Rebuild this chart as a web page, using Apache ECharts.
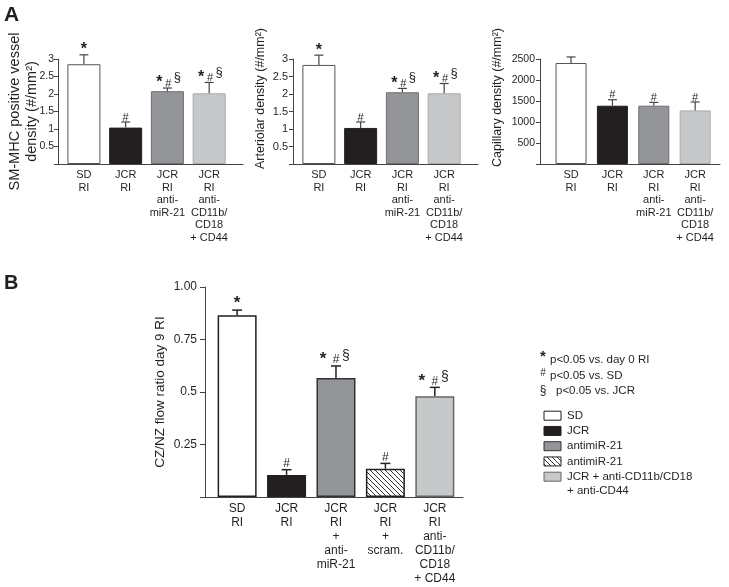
<!DOCTYPE html>
<html>
<head>
<meta charset="utf-8">
<script src="https://cdn.jsdelivr.net/npm/echarts@6/dist/echarts.min.js"></script>
<style>
html, body {margin: 0; padding: 0; background: #fff;}
#chart {width: 729px; height: 587px;}
</style>
</head>
<body>
<div id="chart"></div>
<script>
const FONT = '"Liberation Sans", Arial, sans-serif';
const INK = '#231f20';

// panel A
const catsA = ['SD\nRI', 'JCR\nRI', 'JCR\nRI\nanti-\nmiR-21', 'JCR\nRI\nanti-\nCD11b/\nCD18\n+ CD44'];
const smMean = [2.85, 1.04, 2.08, 2.02];
const smUpper = [3.12, 1.2, 2.17, 2.33];
const smSig = ['*', '#', '*#§', '*#§'];
const artMean = [2.83, 1.03, 2.05, 2.02];
const artUpper = [3.11, 1.2, 2.16, 2.3];
const artSig = ['*', '#', '*#§', '*#§'];
const capMean = [2405, 1388, 1388, 1276];
const capUpper = [2548, 1530, 1467, 1476];
const capSig = ['', '#', '#', '#'];

// panel B
const catsB = ['SD\nRI', 'JCR\nRI', 'JCR\nRI\n+\nanti-\nmiR-21', 'JCR\nRI\n+\nscram.', 'JCR\nRI\nanti-\nCD11b/\nCD18\n+ CD44'];
const flowMean = [0.865, 0.105, 0.567, 0.135, 0.48];
const flowUpper = [0.89, 0.13, 0.624, 0.16, 0.522];
const flowSig = ['*', '#', '*#§', '#', '*#§'];
const flowTicks = ['', '0.25', '0.5', '0.75', '1.00'];

const sigNotes = [['*', 'p<0.05 vs. day 0 RI'], ['#', 'p<0.05 vs. SD'], ['§', 'p<0.05 vs. JCR']];
const legendNames = ['SD', 'JCR', 'antimiR-21', 'antimiR-21', 'JCR + anti-CD11b/CD18\n+ anti-CD44'];

// hatch pattern for the scrambled group
const hatch = (() => {
  const c = document.createElement('canvas');
  c.width = c.height = 5;
  const g = c.getContext('2d');
  g.fillStyle = '#fff';
  g.fillRect(0, 0, 5, 5);
  g.strokeStyle = '#333';
  g.lineWidth = 1;
  g.beginPath();
  g.moveTo(-1, -1); g.lineTo(6, 6);
  g.moveTo(-1, 4); g.lineTo(1, 6);
  g.moveTo(4, -1); g.lineTo(6, 1);
  g.stroke();
  return c;
})();

const fillsA = [
  {color: '#fff', borderColor: '#555', borderWidth: 1},
  {color: '#231f20', borderColor: '#231f20', borderWidth: 1},
  {color: '#939598', borderColor: '#6d6e71', borderWidth: 1},
  {color: '#c7c8ca', borderColor: '#a7a9ac', borderWidth: 1},
];
const fillsB = [
  {color: '#fff', borderColor: '#231f20', borderWidth: 1.5},
  {color: '#231f20', borderColor: '#231f20', borderWidth: 1.5},
  {color: '#939598', borderColor: '#333', borderWidth: 1.5},
  {color: {image: hatch, repeat: 'repeat'}, borderColor: '#231f20', borderWidth: 1.5},
  {color: '#c7c8ca', borderColor: '#666', borderWidth: 1.5},
];

const symA = {
  '*': {size: 16, bold: true, dx: -8, dy: 3},
  '#': {size: 11, bold: false, dx: 1, dy: 1},
  '§': {size: 13, bold: false, dx: 10, dy: -4},
};
const symB = {
  '*': {size: 17, bold: true, dx: -13, dy: 2},
  '#': {size: 12, bold: false, dx: 0, dy: 0},
  '§': {size: 14, bold: false, dx: 10, dy: -3},
};

const grids = [
  {left: 58, top: 59, width: 185, height: 105},
  {left: 293, top: 59, width: 185, height: 105},
  {left: 540, top: 59, width: 180, height: 105},
  {left: 205, top: 287, width: 258, height: 210},
];

function xAxis(idx, cats, min, max, fontSize, lineHeight) {
  return {
    type: 'value', gridIndex: idx, min, max,
    splitLine: {show: false},
    axisTick: {show: false},
    axisLine: {onZero: false, lineStyle: {color: '#444', width: 1}},
    axisLabel: {
      customValues: cats.map((c, i) => i),
      formatter: v => cats[Math.round(v)] || '',
      color: INK, fontFamily: FONT, fontSize, lineHeight, margin: 5,
    },
  };
}

function yAxis(idx, max, interval, name, o) {
  return {
    type: 'value', gridIndex: idx, min: 0, max, interval,
    name, nameLocation: 'middle', nameRotate: 90, nameGap: o.gap, nameMoveOverlap: false,
    nameTextStyle: {color: INK, fontFamily: FONT, fontSize: o.nameSize, lineHeight: o.nameLine, padding: [0, 0, 0, o.shift || 0]},
    splitLine: {show: false},
    axisLine: {show: true, onZero: false, lineStyle: {color: '#444', width: 1}},
    axisTick: {show: true, length: o.tick, lineStyle: {color: '#444'}},
    axisLabel: {
      color: INK, fontFamily: FONT, fontSize: o.labelSize, margin: o.margin,
      formatter: o.fmt || (v => v === 0 ? '' : String(v)),
    },
  };
}

function bars(idx, means, fills, width) {
  return {
    type: 'bar', xAxisIndex: idx, yAxisIndex: idx, barWidth: width, z: 2,
    data: means.map((v, i) => ({value: [i, v], itemStyle: fills[i]})),
  };
}

function errors(idx, means, uppers, sigs, sym, o) {
  return {
    type: 'custom', xAxisIndex: idx, yAxisIndex: idx, z: 5,
    encode: {x: 0, y: 2},
    data: means.map((m, i) => [i, m, uppers[i]]),
    renderItem(params, api) {
      const i = api.value(0);
      const base = api.coord([i, api.value(1)]);
      const top = api.coord([i, api.value(2)]);
      const cx = base[0];
      const st = {stroke: o.color, lineWidth: o.lw};
      const children = [
        {type: 'line', shape: {x1: cx, y1: base[1], x2: cx, y2: top[1]}, style: st},
        {type: 'line', shape: {x1: cx - o.cap / 2, y1: top[1], x2: cx + o.cap / 2, y2: top[1]}, style: st},
      ];
      const sig = sigs[params.dataIndex];
      for (const ch of sig) {
        const s = sym[ch];
        children.push({
          type: 'text',
          x: cx + (sig.length > 1 ? s.dx : 0),
          y: top[1] + s.dy,
          style: {
            text: ch, fill: INK, align: 'center', verticalAlign: 'bottom',
            font: (s.bold ? 'bold ' : '') + s.size + 'px ' + FONT,
          },
        });
      }
      return {type: 'group', children};
    },
  };
}

// panel letters, significance notes and legend for panel B
const graphic = [
  {type: 'text', x: 4, y: 5, style: {text: 'A', font: 'bold 21px ' + FONT, fill: INK}},
  {type: 'text', x: 4, y: 273, style: {text: 'B', font: 'bold 20px ' + FONT, fill: INK}},
];
const noteSym = {'*': {size: 15, bold: true, dy: 4}, '#': {size: 10, bold: false, dy: 3}, '§': {size: 12, bold: false, dy: 6}};
sigNotes.forEach(([ch, txt], i) => {
  const y = 360 + i * 15.5;
  const s = noteSym[ch];
  graphic.push({
    type: 'text', x: 543, y: y + s.dy,
    style: {text: ch, fill: INK, align: 'center', verticalAlign: 'bottom',
      font: (s.bold ? 'bold ' : '') + s.size + 'px ' + FONT},
  });
  graphic.push({
    type: 'text', x: ch === '§' ? 556 : 550, y,
    style: {text: txt, fill: INK, verticalAlign: 'middle', font: '11.5px ' + FONT},
  });
});
legendNames.forEach((name, i) => {
  const y = 415.7 + i * 15.25;
  const f = fillsB[i];
  graphic.push({
    type: 'rect', shape: {x: 544, y: y - 4.5, width: 17, height: 9},
    style: {fill: f.color, stroke: f.borderColor, lineWidth: 1},
  });
  graphic.push({
    type: 'text', x: 567, y: y - 7,
    style: {text: name, fill: INK, verticalAlign: 'top', font: '11.5px ' + FONT, lineHeight: 14},
  });
});

const chart = echarts.init(document.getElementById('chart'), null, {renderer: 'canvas'});
chart.setOption({
  animation: false,
  backgroundColor: '#fff',
  textStyle: {fontFamily: FONT},
  grid: grids,
  xAxis: [
    xAxis(0, catsA, -0.62, 3.81, 11, 12.5),
    xAxis(1, catsA, -0.62, 3.81, 11, 12.5),
    xAxis(2, catsA, -0.75, 3.6, 11, 12.5),
    xAxis(3, catsB, -0.65, 4.57, 12, 14),
  ],
  yAxis: [
    yAxis(0, 3, 0.5, 'SM-MHC positive vessel\ndensity (#/mm²)', {gap: 18, nameSize: 14.5, nameLine: 17, tick: 4, labelSize: 10.5, margin: 4}),
    yAxis(1, 3, 0.5, 'Arteriolar density (#/mm²)', {gap: 24, nameSize: 12.5, nameLine: 16, shift: 26, tick: 4, labelSize: 11, margin: 5}),
    yAxis(2, 2500, 500, 'Capillary density (#/mm²)', {gap: 34, nameSize: 12.5, nameLine: 16, shift: 28, tick: 4, labelSize: 10.5, margin: 5}),
    yAxis(3, 1, 0.25, 'CZ/NZ flow ratio day 9 RI', {gap: 36, nameSize: 13.5, nameLine: 17, tick: 5, labelSize: 12, margin: 8,
      fmt: v => flowTicks[Math.round(v / 0.25)]}),
  ],
  series: [
    bars(0, smMean, fillsA, 33),
    errors(0, smMean, smUpper, smSig, symA, {color: '#444', lw: 1.2, cap: 9}),
    bars(1, artMean, fillsA, 33),
    errors(1, artMean, artUpper, artSig, symA, {color: '#444', lw: 1.2, cap: 9}),
    bars(2, capMean, fillsA, 31),
    errors(2, capMean, capUpper, capSig, symA, {color: '#444', lw: 1.2, cap: 9}),
    bars(3, flowMean, fillsB, 39),
    errors(3, flowMean, flowUpper, flowSig, symB, {color: '#222', lw: 1.5, cap: 10}),
  ],
  graphic,
});
</script>
</body>
</html>
